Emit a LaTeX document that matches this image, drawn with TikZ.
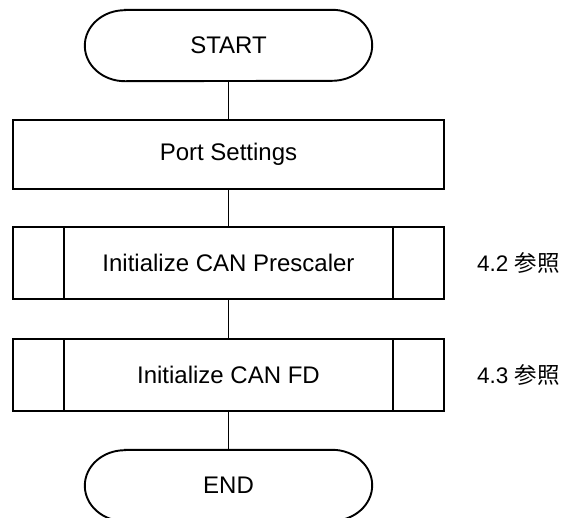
\documentclass[tikz,border=0pt]{standalone}
\usepackage{fontspec}
\setmainfont{Liberation Sans}
\newfontfamily\jpfont{Noto Sans CJK JP}
\begin{document}
\begin{tikzpicture}[x=1pt,y=1pt,
  ln/.style={line width=1.9pt,black},
  txt/.style={font=\fontsize{24}{28}\selectfont,inner sep=0pt},
  termbox/.style={txt,minimum width=287pt,minimum height=71pt},
  procbox/.style={txt,draw,ln,fill=white,minimum width=431pt,minimum height=69pt},
  subbox/.style={txt,draw,ln,fill=white,minimum width=431pt,minimum height=72pt},
  note/.style={font=\fontsize{22.5}{26}\selectfont,inner sep=0pt,anchor=west}]
\useasboundingbox (0,0) rectangle (565,-517);
\clip (0,0) rectangle (565,-517);
% nodes
\node[termbox] (s) at (228.5,-45.5) {START};
\node[procbox] (p) at (228.5,-154.5) {Port Settings};
\node[subbox] (c1) at (228.5,-263) {Initialize CAN Prescaler};
\node[subbox] (c2) at (228.5,-375) {Initialize CAN FD};
\node[termbox] (e) at (228.5,-485.5) {END};
% terminal outlines
\foreach \t in {s,e}{
  \draw[ln] ([xshift=40pt]\t.north west) -- ([xshift=-40pt]\t.north east)
    arc[start angle=90,end angle=-90,x radius=40pt,y radius=35.5pt]
    -- ([xshift=40pt]\t.south west)
    arc[start angle=270,end angle=90,x radius=40pt,y radius=35.5pt] -- cycle;
}
% subroutine inner lines
\foreach \b in {c1,c2}{
  \draw[ln] ([xshift=52pt]\b.north west) -- ([xshift=52pt]\b.south west);
  \draw[ln] ([xshift=-52pt]\b.north east) -- ([xshift=-52pt]\b.south east);
}
% connectors
\draw[ln] (s) -- (p);
\draw[ln] (p) -- (c1);
\draw[ln] (c1) -- (c2);
\draw[ln] (c2) -- (e);
% notes
\node[note] (n1) at (477,-263) {4.2 {\jpfont 参照}};
\node[note] (n2) at (477,-375) {4.3 {\jpfont 参照}};
\end{tikzpicture}
\end{document}
